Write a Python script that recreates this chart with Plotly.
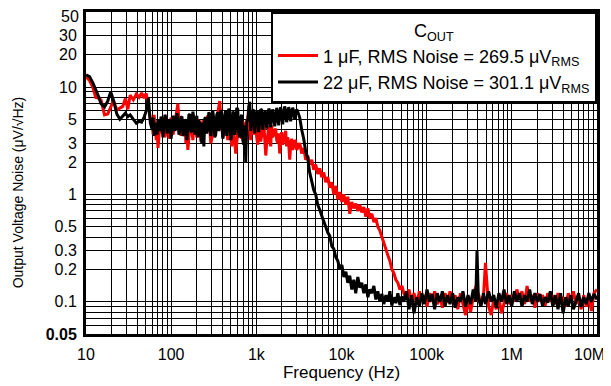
import math
import plotly.graph_objects as go

COR_1UF = "#FF0000"
COR_22UF = "#000000"
FONTE = "Liberation Sans, Arial, sans-serif"

# frequency grid (Hz)
freq_hz = [
    10, 11, 12, 13, 14, 15, 16.5, 18, 19.5, 21, 23, 25, 27, 29, 31, 33, 36, 39, 42, 45, 48, 51, 54, 57,
    60, 61.5, 63, 65, 67, 68.5, 70, 72, 74, 76,
    78, 80, 82, 84.5, 87, 89.5, 92, 94.5, 97, 99.5,
    102, 105, 108, 111, 114, 117, 120, 123.5, 127, 130.5,
    134, 137.5, 141, 145, 149, 153, 157, 161.5, 166, 170.5,
    175, 180, 185, 190, 195, 200, 206, 211.5, 217, 223,
    229, 235.5, 242, 248.5, 255, 262, 269, 276.5, 284, 292,
    300, 308, 317, 325, 334, 343, 353, 362, 372, 382,
    393, 404, 415, 426, 438, 450, 462, 475, 488, 501,
    515, 529, 543, 558, 573, 589, 605, 622, 639, 656,
    674, 693, 712, 731, 751, 772, 793, 815, 837, 860,
    883, 907, 932, 958, 984, 1010, 1040, 1065, 1095, 1125,
    1155, 1190, 1220, 1255, 1290, 1325, 1360, 1400, 1435, 1475,
    1515, 1555, 1600, 1645, 1690, 1735, 1780, 1830, 1880, 1930,
    1985, 2040, 2095, 2150, 2210, 2270, 2335, 2400, 2465, 2530,
    2600, 2670, 2745, 2820, 2900, 2980, 3060,
    3230, 3410, 3600, 3800, 4010, 4230, 4470, 4720, 4980, 5260,
    5550, 5860, 6190, 6530, 6900, 7280, 7690, 8120, 8570, 9050,
    9550, 10100, 10650, 11250, 11850, 12500, 13200, 13950, 14700, 15550,
    16400, 17300, 18300, 19300, 20400, 21500, 22700, 24000, 25300, 26700,
    28200, 29800, 31400, 33200, 35000, 37000, 39000, 41200, 43500, 45900,
    48500, 51200,
    54000, 58000, 62000, 66500, 71000, 76500, 82000, 88000, 94000, 101000,
    108000, 116000, 124000, 133000, 143000, 153000, 164000, 176000, 188000, 202000,
    216000, 232000, 249000, 267000, 286000, 306000, 328000, 352000, 377000, 390000,
    404000, 433000, 464000, 490000, 534000, 572000, 613000, 657000, 705000, 755000,
    810000, 868000, 930000, 997000, 1070000, 1145000, 1230000, 1315000, 1410000, 1510000,
    1620000, 1740000, 1865000, 2000000, 2140000, 2295000, 2460000, 2640000, 2830000, 3030000,
    3250000, 3485000, 3735000, 4000000, 4290000, 4600000, 4930000, 5290000, 5670000, 6080000,
    6510000, 6980000, 7480000, 8020000, 8600000, 9220000, 10000000,
]

# noise density (uV/sqrt(Hz)), C_OUT = 1 uF
ruido_1uf = [
    12.4, 11.5, 10.0, 8.0, 7.9, 7.6, 5.5, 5.6, 6.5, 7.5, 6.1, 6.4, 6.6, 7.8, 6.2, 8.4, 7.6, 8.6, 8.0, 8.8, 7.9, 8.7, 6.3, 5.0,
    4.5, 3.6, 5.5, 4.0, 3.2, 4.3, 2.7, 3.5, 4.8, 3.7,
    4.2, 5.1, 5.0, 3.4, 3.8, 4.5, 4.6, 3.3, 3.9, 5.2,
    4.9, 3.6, 4.1, 4.8, 5.8, 6.5, 7.0, 4.6, 4.3, 3.5,
    4.9, 4.0, 3.6, 4.5, 3.0, 3.8, 2.6, 3.4, 4.4, 5.0,
    3.9, 3.2, 4.7, 5.3, 4.0, 3.4, 5.0, 4.4, 4.2, 3.1,
    3.5, 4.9, 4.6, 3.7, 3.9, 5.1, 5.4, 4.2, 4.1, 3.0,
    3.3, 4.5, 4.8, 3.6, 4.0, 5.0, 5.6, 6.6, 7.4, 5.2,
    4.3, 3.4, 3.6, 5.2, 4.9, 3.7, 3.2, 4.6, 4.4, 3.5,
    2.8, 4.6, 4.0, 3.1, 2.4, 3.4, 3.8, 5.0, 4.9, 3.9,
    3.3, 4.8, 4.5, 2.9, 3.1, 4.2, 5.2, 6.0, 4.0, 3.2,
    5.5, 4.1, 3.6, 4.4, 4.7, 3.4, 2.9, 3.8, 4.3, 3.1,
    3.5, 4.2, 4.6, 3.3, 2.3, 3.0, 3.9, 4.3, 3.2, 2.8,
    4.4, 3.4, 3.6, 4.0, 4.1, 3.2, 3.0, 3.7, 2.4, 3.1,
    3.8, 2.9, 3.2, 3.6, 3.9, 2.8, 3.4, 3.0, 2.1, 2.9,
    3.3, 2.6, 2.8, 3.2, 3.1, 2.6, 2.7,
    3.0, 2.4, 2.7, 2.1, 2.3, 1.9, 2.1, 1.7, 1.9, 1.55,
    1.75, 1.45, 1.6, 1.3, 1.45, 1.15, 1.3, 1.0, 1.2, 0.9,
    1.05, 0.85, 1.0, 0.8, 0.95, 0.66, 0.85, 0.74, 0.82, 0.7,
    0.8, 0.68, 0.76, 0.62, 0.74, 0.6, 0.66, 0.55, 0.6, 0.5,
    0.46, 0.4, 0.36, 0.31, 0.27, 0.24, 0.2, 0.185, 0.16, 0.15,
    0.13, 0.14,
    0.12, 0.105, 0.13, 0.1, 0.12, 0.095, 0.125, 0.1, 0.115, 0.09,
    0.12, 0.1, 0.125, 0.095, 0.11, 0.088, 0.12, 0.098, 0.125, 0.1,
    0.115, 0.085, 0.12, 0.095, 0.075, 0.105, 0.08, 0.11, 0.14, 0.1,
    0.12, 0.095, 0.11, 0.23, 0.09, 0.075, 0.105, 0.085, 0.11, 0.078,
    0.1, 0.12, 0.095, 0.115, 0.1, 0.13, 0.105, 0.125, 0.095, 0.14,
    0.1, 0.115, 0.088, 0.12, 0.1, 0.115, 0.092, 0.12, 0.1, 0.115,
    0.095, 0.12, 0.1, 0.11, 0.09, 0.12, 0.1, 0.125, 0.095, 0.11,
    0.085, 0.115, 0.09, 0.11, 0.082, 0.12, 0.13,
]

# noise density (uV/sqrt(Hz)), C_OUT = 22 uF
ruido_22uf = [
    13.0, 12.5, 11.0, 9.6, 8.2, 7.0, 6.5, 7.4, 9.0, 7.6, 5.6, 5.0, 5.4, 5.7, 5.3, 5.5, 5.0, 4.6, 4.8, 4.7, 5.2, 6.0, 7.9, 4.6,
    4.0, 5.2, 3.5, 4.4, 4.6, 3.6, 5.0, 4.1, 3.9, 5.3,
    4.8, 3.4, 4.3, 5.5, 5.2, 3.7, 4.0, 5.0, 4.7, 3.3,
    3.8, 5.4, 5.1, 3.9, 4.4, 5.7, 4.9, 3.6, 4.1, 5.2,
    5.3, 3.5, 3.7, 5.0, 4.8, 3.2, 4.2, 5.5, 5.6, 3.8,
    3.9, 5.9, 5.0, 3.6, 4.3, 5.4, 3.4, 4.9, 4.6, 3.3,
    3.0, 4.7, 2.8, 5.1, 5.2, 3.7, 4.0, 5.8, 5.6, 3.5,
    4.2, 6.0, 5.0, 3.4, 3.6, 5.5, 5.8, 3.9, 4.4, 6.1,
    5.3, 3.3, 3.9, 5.6, 6.0, 3.5, 4.3, 6.3, 5.4, 3.2,
    3.6, 5.9, 5.7, 3.6, 4.1, 6.4, 6.2, 3.7, 3.4, 5.2,
    5.5, 3.2, 2.9, 4.4, 2.0, 4.9, 4.8, 6.6, 7.3, 3.9,
    4.5, 6.1, 6.0, 3.7, 4.4, 5.9, 5.8, 3.8, 4.6, 6.2,
    6.1, 4.0, 4.9, 5.8, 5.9, 4.1, 4.7, 6.3, 6.0, 4.2,
    5.1, 6.2, 5.5, 4.3, 5.0, 6.4, 5.9, 4.4, 5.3, 6.5,
    5.7, 4.5, 5.5, 6.6, 6.0, 4.7, 5.4, 6.5, 5.8, 4.8,
    5.8, 6.4, 6.0, 5.0, 5.6, 6.2, 5.9,
    5.2, 4.0, 3.3, 2.5, 2.2, 1.6, 1.35, 1.1, 1.0, 0.8,
    0.72, 0.62, 0.56, 0.5, 0.44, 0.41, 0.33, 0.31, 0.26, 0.24,
    0.2, 0.22, 0.17, 0.19, 0.15, 0.175, 0.13, 0.16, 0.12, 0.17,
    0.135, 0.15, 0.12, 0.145, 0.11, 0.13, 0.12, 0.14, 0.105, 0.125,
    0.1, 0.118, 0.095, 0.115, 0.1, 0.125, 0.092, 0.11, 0.097, 0.12,
    0.093, 0.112,
    0.1, 0.125, 0.085, 0.115, 0.078, 0.11, 0.09, 0.12, 0.095, 0.13,
    0.1, 0.118, 0.085, 0.12, 0.1, 0.125, 0.09, 0.115, 0.095, 0.12,
    0.088, 0.11, 0.1, 0.125, 0.09, 0.115, 0.095, 0.13, 0.1, 0.3,
    0.11, 0.09, 0.12, 0.095, 0.125, 0.1, 0.115, 0.088, 0.12, 0.1,
    0.13, 0.095, 0.115, 0.09, 0.125, 0.1, 0.12, 0.09, 0.115, 0.1,
    0.13, 0.095, 0.12, 0.1, 0.118, 0.092, 0.11, 0.098, 0.125, 0.09,
    0.115, 0.085, 0.12, 0.078, 0.11, 0.09, 0.115, 0.085, 0.1, 0.12,
    0.09, 0.11, 0.095, 0.12, 0.1, 0.118, 0.105,
]

# axis labels; the two at the plot corners are drawn as annotations so they stay on the page
x_rotulos = {10: "10", 100: "100", 1000: "1k", 10000: "10k",
             100000: "100k", 1000000: "1M"}
x_ultimo = (10000000, "10M")
y_rotulos = [0.05, 0.1, 0.2, 0.3, 0.5, 1, 2, 3, 5, 10, 20, 30]
y_ultimo = 50

# grid lines at every 1..9 step of each decade
x_grade = [m * 10 ** e for e in range(1, 8) for m in range(1, 10) if m * 10 ** e <= 1e7]
y_grade = [round(m * 10.0 ** e, 4) for e in range(-2, 2) for m in range(1, 10)
           if 0.05 <= m * 10.0 ** e <= 50]


def rotulo_y(v):
    if v == 0.05:
        return "<b>0.05</b>"
    if v in y_rotulos:
        return f"{v:g}"
    return ""


fig = go.Figure()
fig.add_trace(go.Scatter(
    x=freq_hz, y=ruido_1uf, mode="lines",
    name="1 μF, RMS Noise = 269.5 μV<sub>RMS</sub>",
    line=dict(color=COR_1UF, width=3)
))
fig.add_trace(go.Scatter(
    x=freq_hz, y=ruido_22uf, mode="lines",
    name="22 μF, RMS Noise = 301.1 μV<sub>RMS</sub>",
    line=dict(color=COR_22UF, width=3)
))

eixo = dict(showline=True, linecolor="black", linewidth=3, mirror=True,
            showgrid=True, gridcolor="black", gridwidth=1, zeroline=False,
            ticks="", automargin=False,
            tickfont=dict(size=16, color="black", family=FONTE))

fig.update_xaxes(type="log", range=[1, 7],
                 tickvals=x_grade,
                 ticktext=[x_rotulos.get(v, "") for v in x_grade],
                 ticklabelstandoff=4,
                 title=dict(text="Frequency (Hz)", font=dict(size=17, family=FONTE), standoff=1),
                 **eixo)
fig.update_yaxes(type="log", range=[math.log10(0.05), math.log10(50)],
                 tickvals=y_grade,
                 ticktext=[rotulo_y(v) for v in y_grade],
                 ticklabelstandoff=3,
                 **eixo)

fig.add_annotation(
    text=x_ultimo[1], xref="x", yref="paper",
    x=math.log10(x_ultimo[0]), y=0, xanchor="right", yanchor="middle",
    xshift=10, yshift=-20, showarrow=False,
    font=dict(size=16, family=FONTE, color="black")
)
fig.add_annotation(
    text=f"{y_ultimo:g}", xref="paper", yref="y",
    x=0, y=math.log10(y_ultimo), xanchor="right", yanchor="middle",
    xshift=-5, yshift=-4, showarrow=False,
    font=dict(size=16, family=FONTE, color="black")
)
fig.add_annotation(
    text="Output Voltage Noise (μV/√Hz)", textangle=-90,
    xref="paper", yref="paper", x=-0.133, y=0.44,
    xanchor="center", yanchor="middle", showarrow=False,
    font=dict(size=14, family=FONTE, color="black")
)

# the page body adds an 8 px offset, so the figure is 8 px smaller
fig.update_layout(
    width=603, height=378,
    margin=dict(l=78, r=14, t=4, b=52),
    plot_bgcolor="white", paper_bgcolor="white",
    font=dict(family=FONTE, color="black", size=16),
    showlegend=True,
    legend=dict(
        x=1, y=1, xanchor="right", yanchor="top",
        bgcolor="white", bordercolor="black", borderwidth=2,
        font=dict(size=18, family=FONTE),
        title=dict(text="C<sub>OUT</sub>", side="top center", font=dict(size=18, family=FONTE)),
        tracegroupgap=0, itemwidth=40,
    ),
)

fig.write_html("out.html")
